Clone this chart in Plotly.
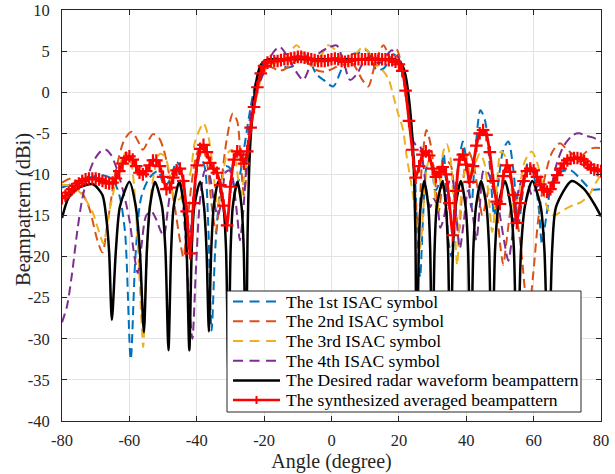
import plotly.graph_objects as go

# ---------------- data ----------------
sym1_pts = [(-80,-11.6),(-76,-11.0),(-72,-10.4),(-68,-10.1),(-65,-10.6),(-63,-12.5),(-61.3,-17),(-59.6,-32.5),(-58.2,-20),(-56.5,-12.8),(-54,-10.4),(-51.5,-9.6),(-49.5,-11.5),(-47.8,-10.5),(-46,-8.5),(-44.5,-9.5),(-43,-14.5),(-42,-17),(-40.8,-12.5),(-39,-7.8),(-37.6,-9.2),(-36.6,-16),(-35.6,-29),(-34.5,-19),(-33.2,-12.5),(-31.5,-9),(-30,-9.3),(-28.6,-11.8),(-27.4,-10.5),(-26,-7),(-24.5,-3),(-22.5,1.2),(-20.5,3.3),(-18,4.1),(-15.5,4.0),(-13.5,3),(-11.5,3.2),(-9.4,4.9),(-7,4.2),(-4.5,2.2),(-2.4,1.5),(0.5,0.7),(3,2.8),(5.5,4.5),(8,4.8),(10.5,5.1),(13.4,2.7),(15.5,2.9),(18.5,4.6),(20.5,3.6),(22,0.5),(23.3,-2.6),(24.5,-8),(25.5,-17),(26.3,-22.5),(27.2,-15),(28.3,-9),(29.5,-8.5),(30.8,-12),(32,-11),(33.3,-7.5),(34.7,-18),(35.6,-20),(36.7,-12),(38,-8),(39,-6),(40.2,-9),(41.5,-14),(42.5,-8.5),(44.2,-2.2),(45.6,-3.5),(47,-9),(48.3,-15),(49.5,-11),(51,-7),(52.5,-6),(54,-9.5),(55.5,-16),(57,-11.5),(58.4,-8.5),(60,-10),(61.5,-14),(62.5,-18.5),(63.8,-15),(65.5,-11),(68,-9.7),(71,-9.5),(74,-10.6),(77,-11.8),(80,-11.8)]

sym2_pts = [(-80,-11),(-77,-10.5),(-75,-11.5),(-72,-14),(-69.5,-18),(-68,-19.5),(-66.5,-16),(-64,-9.5),(-61.5,-5.8),(-59.3,-4.8),(-57.5,-5.9),(-56,-7),(-54.5,-6),(-53,-5.1),(-51.3,-5.5),(-49.8,-7),(-48.2,-10),(-46.5,-14),(-45,-18),(-44,-20),(-42.8,-16),(-41.5,-11),(-40,-7.5),(-38.5,-6.5),(-37,-8.5),(-35.5,-14),(-34.3,-17),(-33,-12),(-31,-5.5),(-29.3,-2.6),(-28,-3.5),(-27,-8),(-26,-12.5),(-25,-9),(-24,-4.5),(-22,0.5),(-20,2.8),(-18.3,3.1),(-16,2.7),(-14.3,2.7),(-12,3.4),(-9.5,4.1),(-7,3.6),(-4.5,2.7),(-2,2.5),(1.5,3.1),(4,4.0),(6.5,3.4),(9,1.6),(10.9,0.7),(13,3.5),(15.4,5.7),(17.5,4.2),(19.3,5.2),(21,2.8),(22.5,-1.5),(23.8,-6),(24.8,-12),(25.8,-17),(26.8,-9),(28.2,-4.6),(29.5,-6.5),(30.8,-11),(31.8,-14.5),(33,-11),(34.5,-8.5),(35.5,-9),(36.8,-14),(37.8,-17),(39,-11),(40.6,-7.2),(42,-8.5),(43.5,-12),(44.8,-15),(46,-13),(47.5,-10.5),(49,-14),(50.2,-19),(51,-21),(52,-18),(53.5,-14),(55,-15.5),(56.5,-20),(57.4,-24),(58.5,-27),(59.9,-22),(61.5,-15),(63.5,-10),(65.5,-7.3),(67.8,-6.2),(69.5,-6.8),(71.5,-7.5),(73.5,-8),(75.5,-7.3),(77.5,-6.8),(80,-6.8)]

sym3_pts = [(-80,-11.3),(-77,-11.4),(-74,-12.5),(-71,-14.5),(-69,-17),(-67.7,-18.4),(-66.2,-15),(-64.8,-12.3),(-63,-9),(-61,-7.3),(-59.5,-8.5),(-58.3,-13),(-57.3,-20),(-56.5,-27),(-55.9,-31),(-55,-22),(-54,-14),(-52.5,-9.5),(-51,-7.5),(-49.5,-7.8),(-48,-10),(-46.5,-13),(-45,-13),(-43.5,-11),(-42,-10),(-40.5,-6),(-38,-3.8),(-36.5,-5.5),(-35,-10),(-33.8,-14),(-32.5,-11),(-31,-7.5),(-29.5,-7),(-28.2,-9),(-27,-13),(-26,-10.5),(-24.8,-7.5),(-23.5,-3.5),(-21.5,0.8),(-19.5,2.8),(-17,3.5),(-14.5,3.8),(-12.5,4.7),(-10.4,5.7),(-8,4.6),(-5.5,3.2),(-3,4.5),(-1,5.7),(1.5,5.0),(4,3.3),(6.5,4.3),(9.4,5.5),(11.5,4.5),(13.5,3.2),(15.5,2.5),(17,1.5),(18.4,-0.5),(19.7,-2.5),(21.2,-4.5),(22.2,-7.5),(23.2,-10),(24.2,-12.5),(25.5,-17),(26.3,-19),(27.3,-14),(28.4,-9),(29.3,-8),(30.3,-10.5),(31.3,-15),(32.3,-11),(33.2,-7.2),(34.2,-6.3),(35.3,-8),(36.3,-14),(37.3,-21),(38.2,-14),(39.3,-10),(40.5,-9),(41.5,-10.5),(42.5,-9),(44,-7.5),(45.3,-8.5),(46.5,-12),(47.7,-17),(48.8,-13),(50.3,-7.2),(51.8,-8),(53.2,-11),(54.3,-14.5),(55.5,-12.5),(57.3,-8.5),(59.4,-7.2),(61,-8.5),(62.5,-11),(64,-14),(65.8,-15),(67.5,-14.7),(69.5,-14.2),(72,-13.7),(74,-13.4),(76.5,-12.5),(78.5,-11),(80,-10)]

sym4_pts = [(-80,-28),(-78.5,-26),(-77,-22),(-75.5,-17),(-74,-13),(-72.5,-10.5),(-70.5,-8.3),(-68.5,-7.2),(-67,-7),(-65.5,-7.6),(-64,-9),(-62.5,-11),(-61,-13.5),(-59.8,-16),(-58.5,-20),(-57.5,-22),(-56.5,-19),(-55,-15),(-53.5,-14.5),(-52,-15.5),(-50.8,-16.8),(-49.8,-17.5),(-48.5,-14),(-47,-10),(-45.8,-9),(-44.5,-12),(-43.3,-18),(-42.2,-26),(-41.3,-30),(-40.3,-22),(-39,-13),(-37.5,-9.5),(-36.3,-10),(-35,-13),(-33.8,-15),(-32.5,-13),(-31.5,-9.8),(-30.3,-9.5),(-29.2,-11),(-28,-15),(-27.2,-18),(-26.3,-15),(-25.3,-9),(-24.3,-3.5),(-22.5,0.7),(-21,1.5),(-19,3.6),(-17,5),(-15.3,5.5),(-13,4.3),(-10.5,2.5),(-8.4,1.5),(-6,3.5),(-3.5,4.8),(-1,5.4),(1.5,5.7),(3.5,3.8),(5.5,1.5),(7.5,2.2),(10,4),(12,4.3),(14,3.5),(16,4.3),(17.9,5.1),(19.5,4.5),(21,2.5),(22.3,-1),(23.3,-3.5),(24.3,-6),(25.3,-6.5),(26.3,-6.6),(27.3,-9),(28.3,-12.5),(29.3,-14),(30.3,-13),(31.5,-14),(32.3,-16.5),(33.5,-15),(34.8,-11),(35.8,-10.5),(37,-15),(38.1,-19),(39.2,-16),(40.5,-12),(41.8,-14.5),(43,-18),(44,-14),(45.2,-9.5),(46.5,-9.8),(47.8,-11.5),(49,-13),(50,-15),(51.2,-18),(52.5,-20.5),(53.5,-18),(55,-13),(56.5,-10.8),(58,-11),(59.5,-12.5),(61,-11.5),(62.8,-11),(64,-12.8),(65.5,-11),(67,-8.5),(69,-6.5),(71.7,-5.2),(73.5,-5),(75.5,-5.3),(77.5,-5.5),(80,-6)]

desired_pts = [(-80,-15.3),(-78,-12.8),(-75,-11.6),(-70.8,-11.2),(-68,-12.5),(-66.8,-15.5),(-66,-19.5),(-65.2,-27.7),
               (-64.0,-19.2),(-62.8,-13.9),(-60.0,-10.9),(-58.1,-13.9),(-56.9,-19.2),(-55.7,-29.2),
               (-54.8,-19.2),(-53.9,-13.9),(-52.4,-10.9),(-50.3,-13.9),(-49.3,-19.2),(-48.4,-31.4),
               (-47.6,-19.2),(-46.85,-13.9),(-45.2,-10.9),(-43.75,-13.9),(-43.0,-19.2),(-42.2,-31.4),
               (-41.5,-19.2),(-40.75,-13.9),(-39.0,-10.9),(-37.85,-13.9),(-37.1,-19.2),(-36.4,-29.1),
               (-35.7,-19.2),(-34.95,-13.9),(-33.6,-10.9),(-32.05,-13.9),(-31.3,-19.2),(-30.6,-34),
               (-29.95,-19.2),(-29.3,-13.9),(-27.9,-10.9),(-26.7,-13.9),(-26.05,-19.2),(-25.4,-35),
               (-24.9,-17),(-24.5,-10),(-24,-5.5),(-23,-0.8),(-22,2.0),(-21,3.3),(-20,3.8),(-18,4.0),(0,4.0),
               (18,4.0),(20,3.8),(21,3.3),(22,2.0),(23,-0.8),(24,-5.5),(24.5,-10),(24.9,-17),(25.3,-35),
               (25.9,-19.2),(26.45,-13.9),(27.5,-10.8),(28.75,-13.9),(29.3,-19.2),(29.9,-35),
               (30.6,-19.2),(31.25,-13.9),(33.0,-10.8),(33.95,-13.9),(34.6,-19.2),(35.3,-35),
               (36.05,-19.2),(36.8,-13.9),(38.4,-10.8),(39.8,-13.9),(40.55,-19.2),(41.3,-35),
               (42.1,-19.2),(42.9,-13.9),(44.4,-10.8),(46.0,-13.9),(46.8,-19.2),(47.6,-35),
               (48.55,-19.2),(49.5,-13.9),(51.5,-10.8),(53.2,-13.9),(54.15,-19.2),(55.1,-35),
               (56.25,-19.2),(57.4,-13.9),(59.6,-10.8),(62.1,-13.9),(63.2,-19.2),(64.4,-35),
               (65.5,-19.2),(66.7,-13.9),(71.3,-10.8),(75,-11.8),(78,-13.6),(80,-15.1)]

avg_angle = list(range(-80, 81))
avg_db = [-12.9,-12.6,-12.2,-11.8,-11.4,-11.1,-10.8,-10.6,-10.5,-10.5,
          -10.5,-10.6,-10.8,-11.0,-11.1,-11.0,-10.5,-9.6,-8.7,-8.0,
          -7.8,-8.2,-9.0,-9.8,-10.0,-9.6,-8.9,-8.3,-8.3,-9.0,
          -10.3,-11.8,-11.6,-10.4,-9.5,-9.3,-10.8,-14.5,-19.6,-13.5,
          -8.9,-6.9,-6.4,-7.3,-8.6,-9.3,-9.8,-11.3,-13.8,-16.2,
          -11.5,-8.2,-7.2,-7.6,-8.7,-7.2,-4.3,-1.8,0.6,2.3,
          3.2,3.6,3.8,3.8,3.8,3.9,4.0,4.0,4.1,4.2,
          4.3,4.3,4.2,4.1,4.0,3.9,3.8,3.8,3.8,3.9,
          4.0,4.1,4.0,3.8,3.7,3.8,3.9,4.0,4.0,4.0,
          4.0,4.0,4.0,4.0,4.0,4.0,4.0,3.9,3.9,3.7,
          3.4,2.6,0.2,-3.5,-7.0,-10.4,-9.0,-7.6,-7.2,-7.7,
          -9.3,-10.3,-9.7,-9.1,-10.0,-13.5,-17.4,-12.0,-8.2,-7.6,
          -8.8,-10.9,-9.0,-6.5,-5.0,-4.6,-5.2,-7.3,-10.8,-13.3,
          -13.6,-10.2,-8.9,-9.7,-12.5,-15.9,-13.5,-10.8,-9.6,-9.3,
          -9.5,-10.3,-11.2,-11.9,-12.1,-11.8,-11.0,-10.1,-9.3,-8.7,
          -8.3,-8.1,-8.0,-8.0,-8.1,-8.4,-8.8,-9.2,-9.4,-9.5,-9.6]

series_names = ["The 1st ISAC symbol", "The 2nd ISAC symbol", "The 3rd ISAC symbol",
                "The 4th ISAC symbol", "The Desired radar waveform beampattern",
                "The synthesized averaged beampattern"]
x_ticks = [-80, -60, -40, -20, 0, 20, 40, 60, 80]
y_ticks = [10, 5, 0, -5, -10, -15, -20, -25, -30, -35, -40]

# ---------------- styling ----------------
colors = ["#0072BD", "#D95319", "#EDB120", "#7E2F8E", "#000000", "#FF0000"]
FONT = "Liberation Serif"
DASH = "9px,5px"

W, H = 615, 474
ML, MR, MT, MB = 62, 14, 10, 53
PW, PH = W - ML - MR, H - MT - MB


def px2paper(px, py):
    return (px - ML) / PW, (H - MB - py) / PH


fig = go.Figure()
for pts, name, col in zip([sym1_pts, sym2_pts, sym3_pts, sym4_pts], series_names[:4], colors[:4]):
    fig.add_trace(go.Scatter(
        x=[p[0] for p in pts], y=[p[1] for p in pts], name=name, mode="lines",
        showlegend=False,
        line=dict(color=col, width=2, dash=DASH, shape="spline", smoothing=0.8)))

fig.add_trace(go.Scatter(
    x=[p[0] for p in desired_pts], y=[p[1] for p in desired_pts], name=series_names[4],
    mode="lines", showlegend=False,
    line=dict(color="black", width=2.5, shape="spline", smoothing=0.7)))

fig.add_trace(go.Scatter(
    x=avg_angle, y=avg_db, name=series_names[5], mode="lines+markers", showlegend=False,
    line=dict(color="red", width=2.8, shape="spline", smoothing=0.6),
    marker=dict(symbol="cross-thin", size=9, line=dict(color="red", width=2.2))))

# ---------------- legend box (drawn as shapes / annotations) ----------------
shapes = []
annotations = []
lx0, ly1 = px2paper(227, 291)
lx1, ly0 = px2paper(581, 412)
shapes.append(dict(type="rect", xref="paper", yref="paper", x0=lx0, x1=lx1, y0=ly0, y1=ly1,
                   fillcolor="white", line=dict(color="#262626", width=1), layer="above"))
row_y = [301.5, 321.3, 341.0, 360.7, 380.4, 400.0]
for i, (name, col) in enumerate(zip(series_names, colors)):
    sx0, sy = px2paper(233, row_y[i])
    sx1, _ = px2paper(280, row_y[i])
    tx, _ = px2paper(284, row_y[i])
    dash = "10px,6.5px" if i < 4 else "solid"
    width = 2 if i < 4 else 2.5
    shapes.append(dict(type="line", xref="paper", yref="paper", x0=sx0, x1=sx1, y0=sy, y1=sy,
                       line=dict(color=col, width=width, dash=dash), layer="above"))
    if i == 5:
        cx, cy0 = px2paper(256.5, row_y[i] - 4)
        _, cy1 = px2paper(256.5, row_y[i] + 4)
        shapes.append(dict(type="line", xref="paper", yref="paper", x0=cx, x1=cx, y0=cy0, y1=cy1,
                           line=dict(color=col, width=2), layer="above"))
    annotations.append(dict(xref="paper", yref="paper", x=tx, y=sy, xanchor="left", yanchor="middle",
                            text=name, showarrow=False,
                            font=dict(family=FONT, size=17.5, color="black")))

# y-axis title placed at the reference position
ytx, yty = px2paper(24, 210)
annotations.append(dict(xref="paper", yref="paper", x=ytx, y=yty, xanchor="center", yanchor="middle",
                        text="Beampattern (dBi)", textangle=-90, showarrow=False,
                        font=dict(family=FONT, size=20.5, color="#262626")))

axis_common = dict(showline=True, linecolor="#262626", linewidth=1, mirror="ticks",
                   ticks="inside", ticklen=5, tickcolor="#262626",
                   showgrid=True, gridcolor="#e3e3e3", gridwidth=1, zeroline=False,
                   automargin=False,
                   tickfont=dict(family=FONT, size=16.5, color="#262626"))

fig.update_layout(
    width=W, height=H,
    margin=dict(l=ML, r=MR, t=MT, b=MB),
    paper_bgcolor="white", plot_bgcolor="white",
    font=dict(family=FONT, color="#262626"),
    xaxis=dict(range=[-80, 80], tickvals=x_ticks, ticktext=[str(v) for v in x_ticks],
               ticklabelstandoff=4,
               title=dict(text="Angle (degree)", font=dict(family=FONT, size=20), standoff=3),
               **axis_common),
    yaxis=dict(range=[-40, 10], tickvals=y_ticks, ticktext=[str(v) for v in y_ticks],
               ticklabelstandoff=8,
               **axis_common),
    shapes=shapes,
    annotations=annotations,
    showlegend=False,
)

fig.write_html("out.html")
